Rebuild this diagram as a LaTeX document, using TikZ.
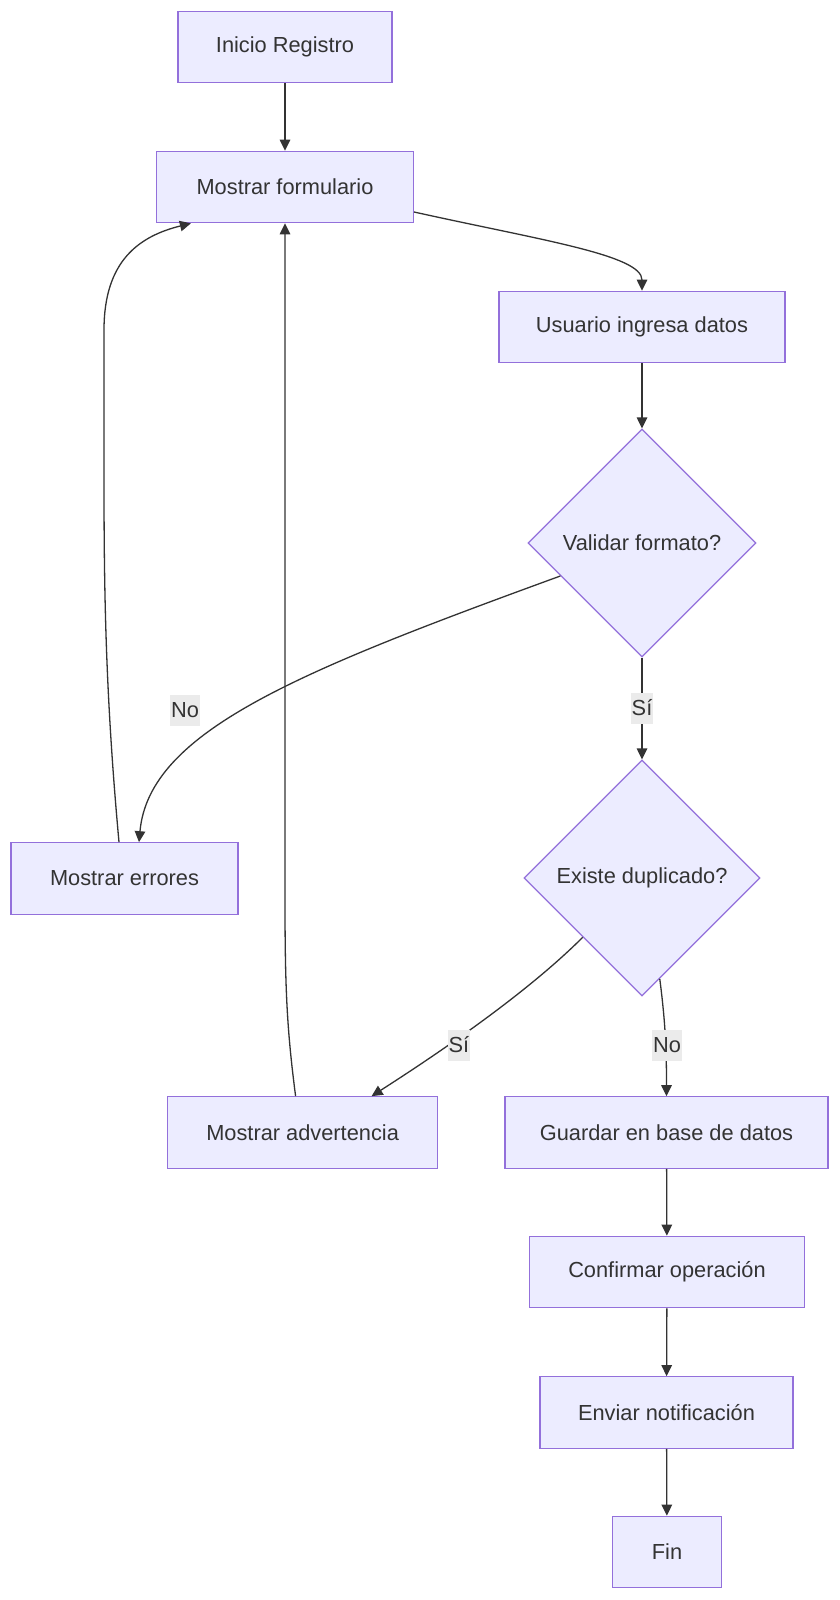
\documentclass[tikz,border=0pt]{standalone}
\usepackage{fontspec}
\setmainfont{Liberation Sans}
\usetikzlibrary{shapes.geometric,arrows.meta}
\definecolor{nodefill}{HTML}{ECECFF}
\definecolor{nodeline}{HTML}{9370DB}
\definecolor{edgecol}{HTML}{333333}
\definecolor{labelbg}{HTML}{EBEBEB}
\definecolor{txt}{HTML}{333333}
\begin{document}
\begin{tikzpicture}[x=1pt,y=-1pt,
  box/.style={draw=nodeline, fill=nodefill, line width=1.2pt, minimum height=71.5pt, inner sep=0pt, text=txt, font=\fontsize{21.8}{26}\selectfont},
  decision/.style={diamond, aspect=1, draw=nodeline, fill=nodefill, line width=1.2pt, inner sep=0pt, text=txt, font=\fontsize{21.8}{26}\selectfont},
  flow/.style={draw=edgecol, line width=1.3pt, -{Triangle[length=11pt,width=10.5pt]}},
  elabel/.style={fill=labelbg, text=txt, font=\fontsize{21.8}{26}\selectfont, inner xsep=1pt, inner ysep=0pt, minimum height=31pt}]
\useasboundingbox (0,0) rectangle (839,1600);
\fill[white] (0,0) rectangle (839,1600);
% nodes
\node[box, minimum width=214pt] (inicio) at (285,47) {Inicio Registro};
\node[box, minimum width=257pt] (formulario) at (285,187) {Mostrar formulario};
\node[box, minimum width=286pt] (usuario) at (642,327) {Usuario ingresa datos};
\node[decision, minimum width=228pt, minimum height=228pt] (validar) at (642,543) {Validar formato?};
\node[decision, minimum width=236pt, minimum height=236pt] (existe) at (642,878) {Existe duplicado?};
\node[box, minimum width=227pt] (errores) at (124.5,878.5) {Mostrar errores};
\node[box, minimum width=270.5pt] (advertencia) at (302.6,1132.5) {Mostrar advertencia};
\node[box, minimum width=323pt] (guardar) at (666.5,1132.5) {Guardar en base de datos};
\node[box, minimum width=275pt] (confirmar) at (667,1272) {Confirmar operación};
\node[box, minimum width=253pt] (enviar) at (666.5,1412.5) {Enviar notificación};
\node[box, minimum width=109pt] (fin) at (667,1552) {Fin};
% edges
\draw[flow] (inicio) -- (formulario);
\draw[flow] ([yshift=-25pt]formulario.east) .. controls (540,240) and (642,255) .. (usuario.north);
\draw[flow] (usuario) -- (validar);
\draw[flow] (validar.202.5) .. controls (300,671) and (149,731) .. ([xshift=14.5pt]errores.north);
\draw[flow] ([xshift=-5.5pt]errores.north) .. controls (106,700) and (104,600) .. (104,480) -- (104,330) .. controls (104,260) and (140,236) .. ([xshift=35pt]formulario.south west);
\draw[flow] (validar) -- (existe);
\draw[flow] (existe.225) .. controls (520,1000) and (420,1065) .. ([xshift=69pt]advertencia.north);
\draw[flow] (existe.280) .. controls (665,1020) and (666.5,1045) .. (guardar.north);
\draw[flow] ([xshift=-7pt]advertencia.north) .. controls (287,1030) and (285,990) .. (285,900) -- (formulario.south);
\draw[flow] (guardar) -- (confirmar);
\draw[flow] (confirmar) -- (enviar);
\draw[flow] (enviar) -- (fin);
% edge labels
\node[elabel] (lno1) at (185,710) {No};
\node[elabel] (lsi1) at (642,708) {Sí};
\node[elabel] (lsi2) at (459,1045) {Sí};
\node[elabel] (lno2) at (667,1045) {No};
\end{tikzpicture}
\end{document}
